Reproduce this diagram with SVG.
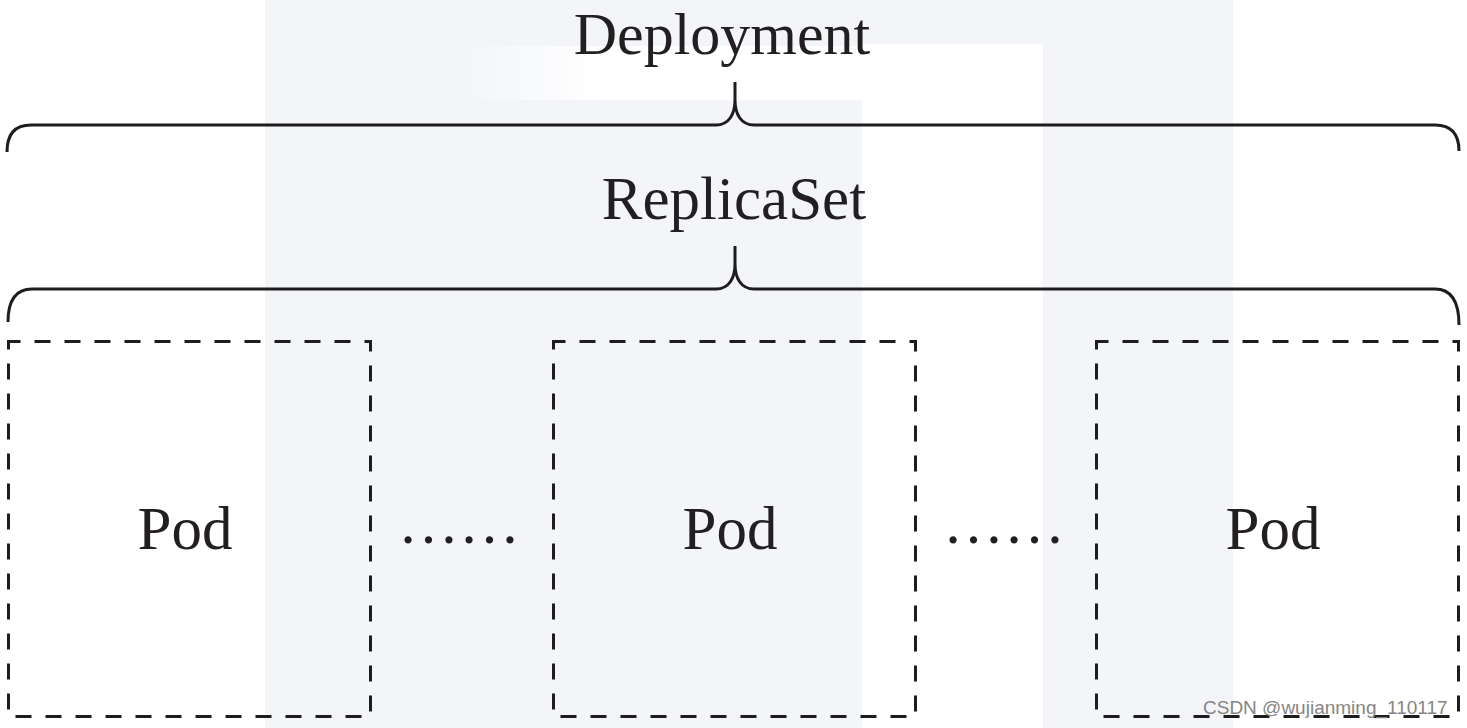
<svg xmlns="http://www.w3.org/2000/svg" width="1467" height="728" viewBox="0 0 1467 728">
  <defs>
    <linearGradient id="streak" x1="0" y1="0" x2="1" y2="0">
      <stop offset="0" stop-color="#ffffff" stop-opacity="0"/>
      <stop offset="0.35" stop-color="#ffffff" stop-opacity="1"/>
      <stop offset="1" stop-color="#ffffff" stop-opacity="1"/>
    </linearGradient>
  </defs>
  <style>
    .lbl { font-family: "Liberation Serif", "Times New Roman", serif; font-size: 61px; fill: #231f20; text-anchor: middle; }
    .brace { fill: none; stroke: #1d1d1d; stroke-width: 3; stroke-linecap: butt; stroke-linejoin: round; }
    .pod { fill: none; stroke: #1d1d1d; stroke-width: 3; stroke-dasharray: 16 14; stroke-dashoffset: 4; }
    .wm { font-family: "Liberation Sans", Arial, sans-serif; font-size: 19px; fill: #858585; }
  </style>
  <g id="background">
    <rect x="0" y="0" width="1467" height="728" fill="#ffffff"/>
    <rect x="265" y="0" width="968" height="44" fill="#f3f5f9"/>
    <rect x="265" y="44" width="597" height="684" fill="#f3f5f9"/>
    <rect x="1043" y="44" width="190" height="684" fill="#f3f5f9"/>
    <rect x="460" y="46" width="402" height="54" fill="url(#streak)"/>
  </g>
  <g id="connectors">
    <path class="brace" d="M 7 152 Q 7 125 31 125 L 716 125 C 729 125 735 114 735 100 L 735 82 M 735 100 C 735 114 741 125 754 125 L 1435 125 Q 1459 125 1459 151"/>
    <path class="brace" d="M 8 322 Q 8 289 32 289 L 716 289 C 729 289 735 278 735 264 L 735 246 M 735 264 C 735 278 741 289 754 289 L 1435 289 Q 1459 289 1459 325"/>
  </g>
  <g id="deployment">
    <text class="lbl" x="722" y="54" style="font-size:60px">Deployment</text>
  </g>
  <g id="replicaset">
    <text class="lbl" x="734" y="219">ReplicaSet</text>
  </g>
  <g id="pod1">
    <rect class="pod" x="8.5" y="341.5" width="362" height="375"/>
    <text class="lbl" x="185" y="549">Pod</text>
  </g>
  <g id="ellipsis1">
    <text class="lbl" x="459" y="543">……</text>
  </g>
  <g id="pod2">
    <rect class="pod" x="553.5" y="341.5" width="362" height="375"/>
    <text class="lbl" x="730" y="549">Pod</text>
  </g>
  <g id="ellipsis2">
    <text class="lbl" x="1004" y="543">……</text>
  </g>
  <g id="pod3">
    <rect class="pod" x="1096.5" y="341.5" width="362" height="375"/>
    <text class="lbl" x="1273" y="549">Pod</text>
  </g>
  <g id="watermark">
    <text class="wm" x="1203" y="714">CSDN @wujianming_110117</text>
  </g>
</svg>
